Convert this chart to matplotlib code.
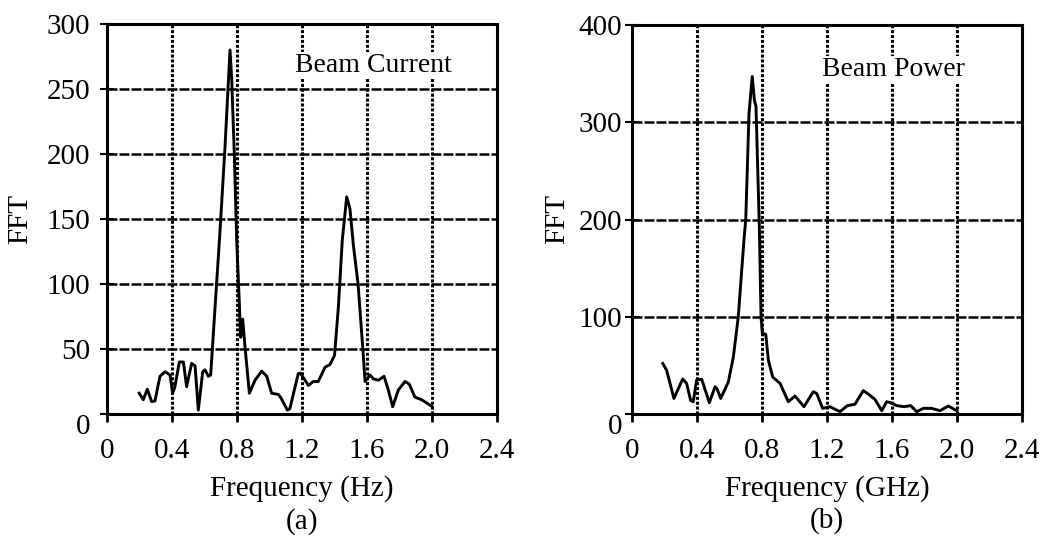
import matplotlib
matplotlib.use("Agg")
import matplotlib.pyplot as plt
import matplotlib.transforms as mtransforms

# Beam current spectrum
freq_a = [0.198, 0.223, 0.248, 0.275, 0.295, 0.326, 0.357, 0.388, 0.404, 0.418,
          0.445, 0.470, 0.490, 0.521, 0.542, 0.562, 0.589, 0.603, 0.624, 0.638,
          0.695, 0.726, 0.757, 0.767, 0.784, 0.798, 0.823,
          0.835, 0.849, 0.876, 0.911, 0.952, 0.983, 1.013, 1.055, 1.070, 1.110,
          1.125, 1.177, 1.190, 1.239, 1.270, 1.300, 1.342, 1.372, 1.400, 1.424,
          1.448, 1.475, 1.495, 1.516, 1.545, 1.575, 1.588, 1.618, 1.640, 1.670,
          1.705, 1.731, 1.758, 1.793, 1.834, 1.860, 1.895, 1.936, 1.998]
fft_a = [16, 11, 19, 9.5, 10, 29, 32.5, 30, 16, 21,
         40, 40, 21, 39, 37, 3, 32.5, 34, 29, 30,
         140, 205, 280, 259, 198, 134, 59,
         73, 52, 16, 26, 33, 29, 16, 15, 12.5, 3,
         4, 31, 31.5, 22, 25, 25, 36, 38, 45, 82.5,
         134, 167, 158, 130, 100, 49, 25, 30, 27, 26,
         29, 18.5, 5.6, 18.5, 25, 23, 13, 11, 6]

# Beam power spectrum
freq_b = [0.189, 0.213, 0.258, 0.312, 0.336, 0.361, 0.377, 0.398, 0.429, 0.476,
          0.511, 0.523, 0.546, 0.593, 0.624, 0.654, 0.689, 0.700, 0.720, 0.740,
          0.753, 0.763, 0.784, 0.794, 0.802, 0.823, 0.839, 0.866, 0.911, 0.962,
          1.003, 1.058, 1.116, 1.137, 1.173, 1.218, 1.280, 1.325, 1.372, 1.423,
          1.454, 1.495, 1.537, 1.567, 1.592, 1.629, 1.674, 1.715, 1.752, 1.793,
          1.844, 1.895, 1.947, 1.998]
fft_b = [52, 45, 16, 36, 31.5, 14, 12.6, 35, 35.7, 11.6,
         28, 26, 16, 33, 59, 100, 179, 200, 309, 347,
         323, 316, 190, 100, 83, 82, 55.5, 38, 31.5, 12.6,
         18.5, 7.5, 23, 21, 5.8, 7.5, 2.4, 8.6, 10, 24,
         20.5, 15, 3.4, 12.6, 11.6, 8.6, 7.5, 8.6, 2.4, 5.8,
         5.8, 3.4, 8.2, 3.4]

xticks = [0, 0.4, 0.8, 1.2, 1.6, 2.0, 2.4]
xtick_labels = ["0", "0.4", "0.8", "1.2", "1.6", "2.0", "2.4"]
yticks_a = [0, 50, 100, 150, 200, 250, 300]
yticks_b = [0, 100, 200, 300, 400]

plt.rcParams["font.family"] = ["Liberation Serif", "DejaVu Serif"]
FS = 21

fig = plt.figure(figsize=(10.4, 5.4), dpi=100)
ax_a = fig.add_axes([107 / 1040, 126 / 540, 390 / 1040, 390 / 540])
ax_b = fig.add_axes([632 / 1040, 126 / 540, 390 / 1040, 389 / 540])


def style(ax, x, y, yticks, ymax, label, lx, ly, xlab, panel, ypad, ylpad):
    ax.set_xlim(0, 2.4)
    ax.set_ylim(0, ymax)
    for xv in xticks[1:-1]:
        ax.axvline(xv, color="black", lw=2.2, ls=(0, (1, 0.6)), zorder=1)
    for yv in yticks[1:-1]:
        ax.axhline(yv, color="black", lw=1.8, ls=(0, (4, 0.8)), zorder=1)
    ax.plot(x, y, color="black", lw=2.1, zorder=3)
    for s in ax.spines.values():
        s.set_linewidth(2.2)
    ax.set_xticks(xticks)
    ax.set_xticklabels(xtick_labels)
    ax.set_yticks(yticks)
    ax.tick_params(axis="x", direction="out", length=6, width=2, pad=11, labelsize=FS)
    ax.tick_params(axis="y", direction="inout", length=10, width=1.5, pad=ypad, labelsize=FS)
    # the zero label sits slightly below its tick
    lab0 = ax.get_yticklabels()[0]
    lab0.set_transform(lab0.get_transform() + mtransforms.ScaledTranslation(0, -10 / 100, fig.dpi_scale_trans))
    ax.text(lx, ly, label, fontsize=20, ha="left", va="center",
            bbox=dict(facecolor="white", edgecolor="none", pad=1), zorder=2)
    ax.set_xlabel(xlab, fontsize=FS, labelpad=8)
    ax.set_ylabel("FFT", fontsize=FS, labelpad=ylpad)
    ax.text(0.5, -0.24, panel, transform=ax.transAxes, fontsize=FS, ha="center", va="top")


style(ax_a, freq_a, fft_a, yticks_a, 300, "Beam Current", 1.16, 268, "Frequency (Hz)", "(a)", 7, 10)
style(ax_b, freq_b, fft_b, yticks_b, 400, "Beam Power", 1.17, 354, "Frequency (GHz)", "(b)", 2, 6)

fig.savefig("out.png", dpi=100)
